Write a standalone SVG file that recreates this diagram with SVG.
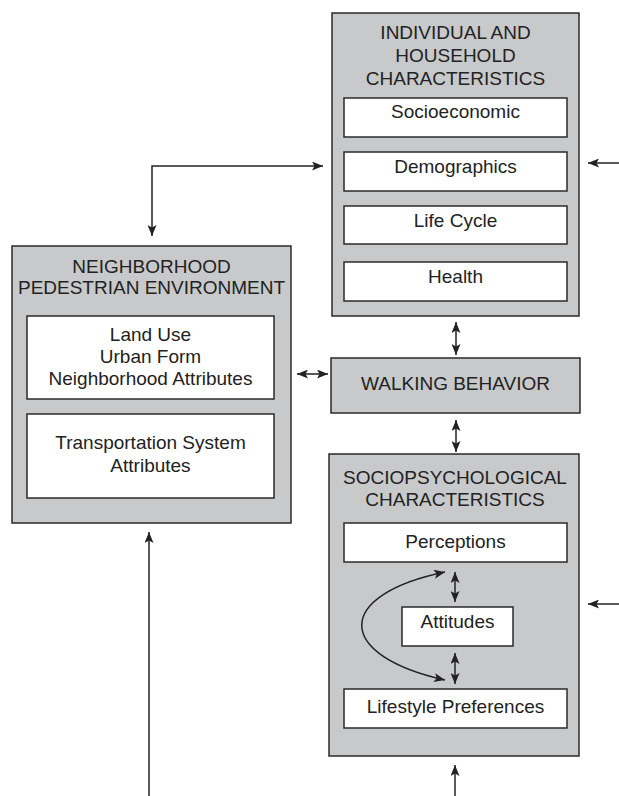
<svg xmlns="http://www.w3.org/2000/svg" width="619" height="796" viewBox="0 0 619 796">
<defs>
<marker id="ah" viewBox="0 0 11 9" refX="11" refY="4.5" markerWidth="11" markerHeight="9" markerUnits="userSpaceOnUse" orient="auto-start-reverse">
<path d="M0,0 L11,4.5 L0,9 L2.5,4.5 z" fill="#222"/>
</marker>
<style>
.outer{fill:#c8c9cb;stroke:#2a2a2a;stroke-width:1.5}
.inner{fill:#fff;stroke:#2a2a2a;stroke-width:1.5}
text{font-family:"Liberation Sans",Arial,sans-serif;font-size:19px;fill:#222;text-anchor:middle}
.c{fill:none;stroke:#222;stroke-width:1.5}
</style>
</defs>
<rect width="619" height="796" fill="#fff"/>
<g id="individual">
<rect class="outer" x="332" y="13" width="247" height="303"/>
<text x="455.5" y="39">INDIVIDUAL AND</text>
<text x="455.5" y="62">HOUSEHOLD</text>
<text x="455.5" y="85">CHARACTERISTICS</text>
<g id="socioeconomic"><rect class="inner" x="344" y="98" width="223" height="39"/><text x="455.5" y="118">Socioeconomic</text></g>
<g id="demographics"><rect class="inner" x="344" y="152" width="223" height="39"/><text x="455.5" y="173">Demographics</text></g>
<g id="lifecycle"><rect class="inner" x="344" y="206" width="223" height="38"/><text x="455.5" y="227">Life Cycle</text></g>
<g id="health"><rect class="inner" x="344" y="262" width="223" height="39"/><text x="455.5" y="283">Health</text></g>
</g>
<g id="neighborhood">
<rect class="outer" x="12" y="246" width="279" height="277"/>
<text x="151.5" y="273">NEIGHBORHOOD</text>
<text x="151.5" y="294">PEDESTRIAN ENVIRONMENT</text>
<g id="landuse"><rect class="inner" x="27" y="316" width="247" height="83"/>
<text x="150.5" y="341">Land Use</text>
<text x="150.5" y="363">Urban Form</text>
<text x="150.5" y="385">Neighborhood Attributes</text></g>
<g id="transport"><rect class="inner" x="27" y="414" width="247" height="84"/>
<text x="150.5" y="449">Transportation System</text>
<text x="150.5" y="472">Attributes</text></g>
</g>
<g id="walking">
<rect class="outer" x="331" y="358" width="249" height="55"/>
<text x="455.5" y="390">WALKING BEHAVIOR</text>
</g>
<g id="sociopsych">
<rect class="outer" x="329" y="454" width="250" height="302"/>
<text x="455" y="484">SOCIOPSYCHOLOGICAL</text>
<text x="455" y="506">CHARACTERISTICS</text>
<g id="perceptions"><rect class="inner" x="344" y="523" width="223" height="39"/><text x="455.5" y="548">Perceptions</text></g>
<g id="attitudes"><rect class="inner" x="402" y="607" width="111" height="39"/><text x="457.5" y="628">Attitudes</text></g>
<g id="lifestyle"><rect class="inner" x="344" y="689" width="223" height="39"/><text x="455.5" y="713">Lifestyle Preferences</text></g>
</g>
<g id="connectors">
<path class="c" d="M323,166 H152 V236" marker-start="url(#ah)" marker-end="url(#ah)"/>
<path class="c" d="M456,322 V355" marker-start="url(#ah)" marker-end="url(#ah)"/>
<path class="c" d="M456,420 V452" marker-start="url(#ah)" marker-end="url(#ah)"/>
<path class="c" d="M297,374 H328" marker-start="url(#ah)" marker-end="url(#ah)"/>
<path class="c" d="M455,572 V602" marker-start="url(#ah)" marker-end="url(#ah)"/>
<path class="c" d="M455,653 V684" marker-start="url(#ah)" marker-end="url(#ah)"/>
<path class="c" d="M445,572 C334,595 334,655 445,680" marker-start="url(#ah)" marker-end="url(#ah)"/>
<path class="c" d="M619,163 H588" marker-end="url(#ah)"/>
<path class="c" d="M619,604 H588" marker-end="url(#ah)"/>
<path class="c" d="M455,796 V765" marker-end="url(#ah)"/>
<path class="c" d="M149,796 V532" marker-end="url(#ah)"/>
</g>
</svg>
